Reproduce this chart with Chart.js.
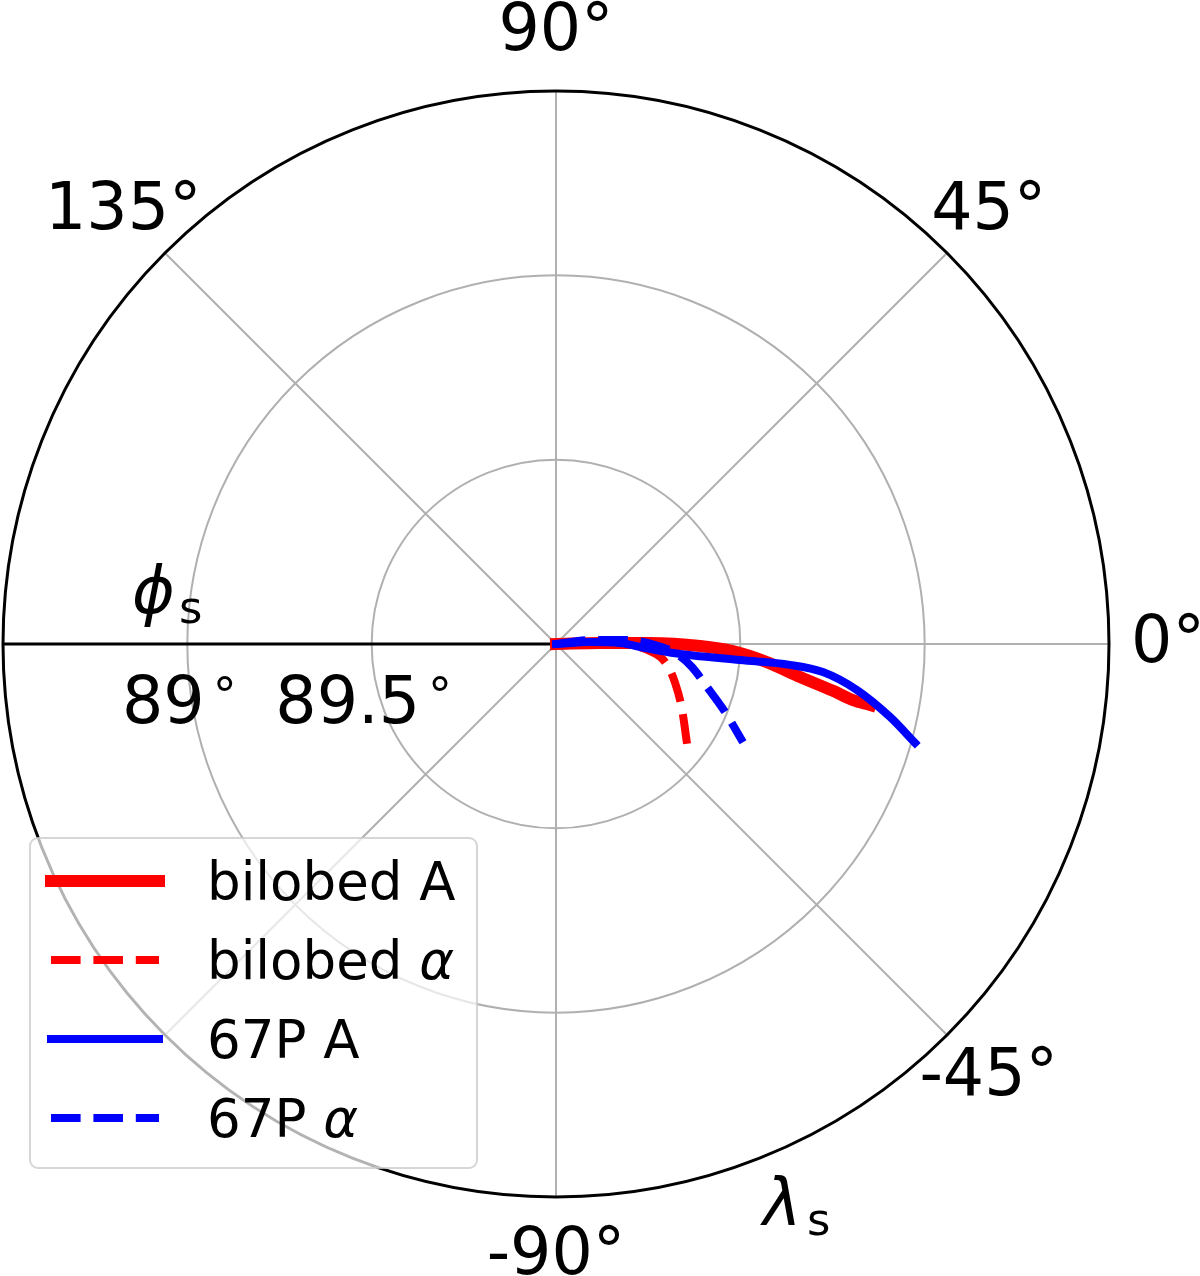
<!DOCTYPE html>
<html><head><meta charset="utf-8">
<script src="https://cdn.jsdelivr.net/npm/chart.js@4"></script>
<style>html,body{margin:0;padding:0;background:#fff}#wrap{width:1200px;height:1276px;position:relative}</style>
</head><body><div id="wrap"><canvas id="c"></canvas></div>
<script>
// ---- data: longitude lambda_s (deg) and latitude phi_s (deg) ----
const seriesLabels = ['bilobed A', 'bilobed α', '67P A', '67P α'];
const bilobedA_lambda = [0, 1.3, 0.6, -0.8, -2.3, -4.9, -7.7, -9.6, -10.7, -11.0];
const bilobedA_phi    = [90, 89.881, 89.745, 89.609, 89.520, 89.426, 89.332, 89.238, 89.180, 89.132];
const bilobedAlpha_lambda = [0, 1.3, -0.8, -4.3, -9.4, -18.1, -27.6, -38.8];
const bilobedAlpha_phi    = [90, 89.881, 89.799, 89.744, 89.700, 89.660, 89.614, 89.541];
const p67A_lambda = [0, 3.4, 0.9, -2.6, -4.4, -5.0, -5.1, -6.0, -8.7, -12.3, -15.4];
const p67A_phi    = [90, 89.908, 89.826, 89.758, 89.682, 89.499, 89.363, 89.272, 89.174, 89.073, 88.990];
const p67Alpha_lambda = [0, 6.7, 3.3, -0.6, -4.7, -9.6, -15.9, -21.9, -27.7];
const p67Alpha_phi    = [90, 89.907, 89.813, 89.731, 89.671, 89.626, 89.574, 89.506, 89.427];

const angleTicks = [0, 45, 90, 135, -45, -90];
const angleTickLabels = ['0°', '45°', '90°', '135°', '-45°', '-90°'];
const spokeAngles = [0, 45, 90, 135, 180, 225, 270, 315];
const phiTicks = [89, 89.5];
const phiTickLabels = ['89', '89.5'];
const phiRings = [89.5, 89];
const phiPole = 90, phiEdge = 88.5;

const rMax = phiPole - phiEdge;
function toXY(lams, phis) {
  return lams.map((l, i) => {
    const r = phiPole - phis[i];
    const a = l * Math.PI / 180;
    return {x: r * Math.cos(a), y: r * Math.sin(a)};
  });
}

const FONT = '"DejaVu Sans", "Liberation Sans", sans-serif';

const polarPlugin = {
  id: 'polarPlugin',
  beforeDatasetsDraw(chart) {
    const {ctx, scales: {x, y}} = chart;
    const cx = x.getPixelForValue(0), cy = y.getPixelForValue(0);
    const rp = v => x.getPixelForValue(v) - cx;
    const R = rp(rMax);
    ctx.save();
    ctx.strokeStyle = '#b0b0b0';
    ctx.lineWidth = 2;
    spokeAngles.forEach(a => {
      const t = a * Math.PI / 180;
      ctx.beginPath();
      ctx.moveTo(cx, cy);
      ctx.lineTo(cx + R * Math.cos(t), cy - R * Math.sin(t));
      ctx.stroke();
    });
    phiRings.forEach(p => {
      ctx.beginPath();
      ctx.arc(cx, cy, rp(phiPole - p), 0, Math.PI * 2);
      ctx.stroke();
    });
    ctx.strokeStyle = '#000';
    ctx.lineWidth = 3;
    ctx.beginPath();
    ctx.arc(cx, cy, R, 0, Math.PI * 2);
    ctx.stroke();
    ctx.lineWidth = 3;
    ctx.beginPath();
    ctx.moveTo(cx, cy);
    ctx.lineTo(cx - R, cy);
    ctx.stroke();
    ctx.restore();
  },
  afterDatasetsDraw(chart) {
    const {ctx, scales: {x, y}} = chart;
    const cx = x.getPixelForValue(0), cy = y.getPixelForValue(0);
    const rp = v => x.getPixelForValue(v) - cx;
    ctx.save();
    ctx.fillStyle = '#000';
    // angular tick labels
    const fs = 65;
    ctx.font = fs + 'px ' + FONT;
    ctx.textAlign = 'center';
    ctx.textBaseline = 'alphabetic';
    const Rl = rp(1.66);
    angleTicks.forEach((a, i) => {
      const t = a * Math.PI / 180;
      const px = cx + Rl * Math.cos(t), py = cy - Rl * Math.sin(t) - 5.5;
      ctx.fillText(angleTickLabels[i], px, py + 0.3645 * fs);
    });
    // radial tick labels: number + small raised degree sign
    ctx.textAlign = 'left';
    phiTicks.forEach((p, i) => {
      const center = cx - rp(phiPole - p) - 8;
      ctx.font = fs + 'px ' + FONT;
      const wn = ctx.measureText(phiTickLabels[i]).width;
      ctx.font = '48px ' + FONT;
      const wd = ctx.measureText('°').width;
      const gap = 8;
      const start = center - (wn + gap + wd) / 2;
      const base = cy + 55 + 0.3645 * fs;
      ctx.font = fs + 'px ' + FONT;
      ctx.fillText(phiTickLabels[i], start, base);
      ctx.font = '48px ' + FONT;
      ctx.fillText('°', start + wn + gap, base - 11);
    });
    // axis titles
    ctx.font = 'italic 65px ' + FONT;
    ctx.fillText('\u03D5', cx - 424, cy - 31);
    ctx.fillText('\u03BB', cx + 207, cy + 581);
    ctx.font = '45px ' + FONT;
    ctx.fillText('s', cx - 377, cy - 21);
    ctx.fillText('s', cx + 251, cy + 591);

    // legend
    const ca = chart.chartArea;
    const lx = ca.left + 27, ly = ca.top + 747, lw = 447, lh = 330;
    ctx.beginPath();
    ctx.roundRect(lx, ly, lw, lh, 8);
    ctx.fillStyle = 'rgba(255,255,255,0.7)';
    ctx.fill();
    ctx.strokeStyle = 'rgba(204,204,204,0.8)';
    ctx.lineWidth = 2;
    ctx.stroke();
    const lfs = 53;
    chart.data.datasets.forEach((ds, i) => {
      const yc = ly + 43 + i * 79;
      ctx.save();
      ctx.strokeStyle = ds.borderColor;
      ctx.lineWidth = ds.borderWidth;
      ctx.lineCap = ds.borderCapStyle;
      ctx.setLineDash(ds.borderDash || []);
      ctx.beginPath();
      ctx.moveTo(lx + 21, yc);
      ctx.lineTo(lx + 129, yc);
      ctx.stroke();
      ctx.restore();
      ctx.fillStyle = '#000';
      const label = ds.label;
      let tx = lx + 177;
      const by = yc + 0.3645 * lfs;
      if (label.endsWith('α')) {
        const head = label.slice(0, -1);
        ctx.font = lfs + 'px ' + FONT;
        ctx.fillText(head, tx, by);
        tx += ctx.measureText(head).width;
        ctx.font = 'italic ' + lfs + 'px ' + FONT;
        ctx.fillText('α', tx, by);
      } else {
        ctx.font = lfs + 'px ' + FONT;
        ctx.fillText(label, tx, by);
      }
    });
    ctx.restore();
  }
};

const dash = [29.6, 12.8];
new Chart(document.getElementById('c'), {
  type: 'scatter',
  data: {
    datasets: [
      {label: seriesLabels[0], data: toXY(bilobedA_lambda, bilobedA_phi), borderColor: '#ff0000', borderWidth: 12, borderCapStyle: 'square', order: 4},
      {label: seriesLabels[1], data: toXY(bilobedAlpha_lambda, bilobedAlpha_phi), borderColor: '#ff0000', borderWidth: 8, borderDash: dash, borderCapStyle: 'butt', order: 3},
      {label: seriesLabels[2], data: toXY(p67A_lambda, p67A_phi), borderColor: '#0000ff', borderWidth: 8, borderCapStyle: 'square', order: 2},
      {label: seriesLabels[3], data: toXY(p67Alpha_lambda, p67Alpha_phi), borderColor: '#0000ff', borderWidth: 8, borderDash: dash, borderCapStyle: 'butt', order: 1}
    ].map(d => Object.assign(d, {showLine: true, pointRadius: 0, pointHoverRadius: 0, cubicInterpolationMode: 'monotone', fill: false, clip: false, borderJoinStyle: 'round'}))
  },
  options: {
    responsive: true,
    maintainAspectRatio: false,
    animation: false,
    layout: {padding: {left: 3, right: 91, top: 91, bottom: 79}},
    scales: {
      x: {type: 'linear', min: -rMax, max: rMax, display: false},
      y: {type: 'linear', min: -rMax, max: rMax, display: false}
    },
    plugins: {legend: {display: false}, tooltip: {enabled: false}}
  },
  plugins: [polarPlugin]
});
</script>
</body></html>
